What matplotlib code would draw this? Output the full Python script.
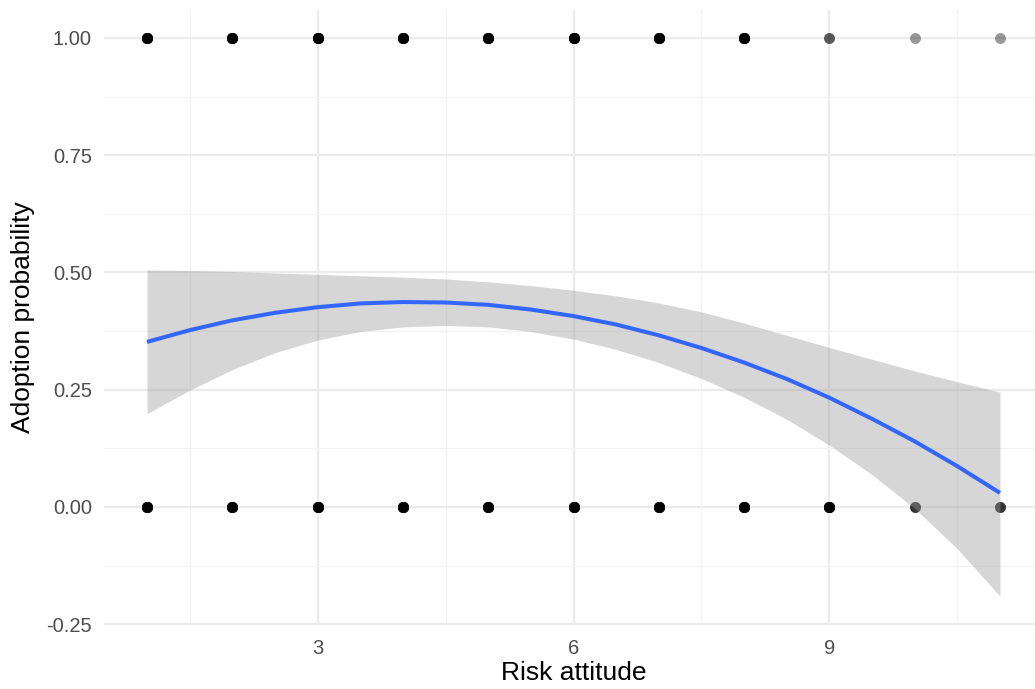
import matplotlib
matplotlib.use("Agg")
import matplotlib.pyplot as plt
import numpy as np

plt.rcParams['font.family'] = ['Liberation Sans', 'DejaVu Sans']

# observed points: risk attitude, adoption (0/1), number of overlapping observations
risk_top = [1, 2, 3, 4, 5, 6, 7, 8, 9, 10, 11]
count_top = [10, 10, 10, 10, 10, 10, 10, 10, 2, 1, 1]
risk_bottom = [1, 2, 3, 4, 5, 6, 7, 8, 9, 10, 11]
count_bottom = [10, 10, 10, 10, 10, 10, 10, 10, 10, 3, 3]

# smooth curve
smooth_x = [1, 1.5, 2, 2.5, 3, 3.5, 4, 4.5, 5, 5.5, 6, 6.5, 7, 7.5, 8, 8.5, 9, 9.5, 10, 10.5, 11]
smooth_y = [0.352, 0.377, 0.398, 0.414, 0.426, 0.434, 0.437, 0.436, 0.431, 0.421, 0.407,
            0.389, 0.366, 0.339, 0.308, 0.273, 0.233, 0.188, 0.140, 0.087, 0.030]
smooth_hi = [0.505, 0.504, 0.502, 0.499, 0.496, 0.493, 0.490, 0.486, 0.480, 0.472, 0.462,
             0.450, 0.435, 0.416, 0.392, 0.366, 0.340, 0.315, 0.290, 0.267, 0.245]
smooth_lo = [0.199, 0.249, 0.293, 0.329, 0.356, 0.374, 0.384, 0.387, 0.384, 0.374, 0.358,
             0.336, 0.308, 0.274, 0.234, 0.187, 0.132, 0.069, -0.003, -0.089, -0.190]

x_ticks = [3, 6, 9]
x_minor = [1.5, 4.5, 7.5, 10.5]
y_ticks = [-0.25, 0.0, 0.25, 0.5, 0.75, 1.0]
y_labels = ["-0.25", "0.00", "0.25", "0.50", "0.75", "1.00"]
y_minor = [-0.125, 0.125, 0.375, 0.625, 0.875]

W, H = 1035, 689
fig = plt.figure(figsize=(W / 100, H / 100), dpi=100)
left_px, right_px, top_px, bot_px = 104.4, 1042.6, 10, 625
ax = fig.add_axes([left_px / W, (H - bot_px) / H, (right_px - left_px) / W, (bot_px - top_px) / H])

ax.set_xlim(0.5, 11.5)
ax.set_ylim(-0.2516, 1.0596)

for x, n in zip(risk_top, count_top):
    for _ in range(n):
        ax.scatter([x], [1.0], s=62, color='black', alpha=0.4, linewidths=0, zorder=2)
for x, n in zip(risk_bottom, count_bottom):
    for _ in range(n):
        ax.scatter([x], [0.0], s=62, color='black', alpha=0.4, linewidths=0, zorder=2)

ax.fill_between(smooth_x, smooth_lo, smooth_hi, color='#999999', alpha=0.4, linewidth=0, zorder=3)
ax.plot(smooth_x, smooth_y, color='#3366FF', linewidth=2.9, zorder=4, solid_capstyle='butt')

ax.set_xticks(x_ticks)
ax.set_xticks(x_minor, minor=True)
ax.set_yticks(y_ticks)
ax.set_yticklabels(y_labels)
ax.set_yticks(y_minor, minor=True)

ax.grid(which='major', color='#EBEBEB', linewidth=1.6, zorder=0)
ax.grid(which='minor', color='#F2F2F2', linewidth=0.9, zorder=0)
ax.set_axisbelow(True)
for s in ax.spines.values():
    s.set_visible(False)
ax.tick_params(which='both', length=0)
ax.tick_params(axis='both', labelsize=14.5, labelcolor='#4D4D4D')
ax.tick_params(axis='x', pad=10)
ax.tick_params(axis='y', pad=9)

ax.set_xlabel("Risk attitude", fontsize=19, color='black', labelpad=2)
ax.set_ylabel("Adoption probability", fontsize=19, color='black', labelpad=8)

fig.savefig("out.png", dpi=100)
